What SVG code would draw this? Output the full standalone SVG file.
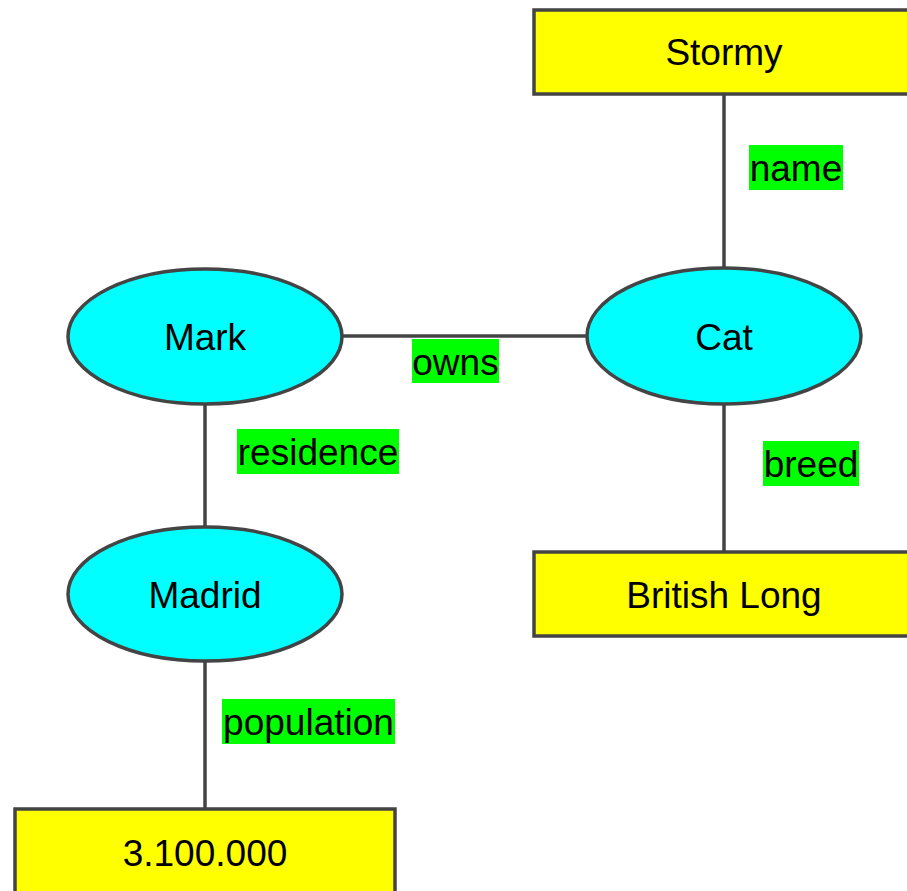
<svg xmlns="http://www.w3.org/2000/svg" width="907" height="891" viewBox="0 0 907 891">
  <style>
    .edge { stroke: #444444; stroke-width: 3.5; fill: none; }
    .entity { fill: #00ffff; stroke: #444444; stroke-width: 3.5; }
    .value { fill: #ffff00; stroke: #444444; stroke-width: 3.5; }
    .tag { fill: #00ff00; stroke: none; }
    text { font-family: "Liberation Sans", Arial, sans-serif; font-size: 37px; fill: #000000; }
    .mid { text-anchor: middle; }
  </style>

  <!-- relations between entities and values -->
  <g id="connectors">
    <line class="edge" x1="341" y1="336" x2="587" y2="336"/>
    <line class="edge" x1="724" y1="94" x2="724" y2="268"/>
    <line class="edge" x1="724" y1="404" x2="724" y2="552"/>
    <line class="edge" x1="205" y1="404" x2="205" y2="527"/>
    <line class="edge" x1="205" y1="661" x2="205" y2="809"/>

    <g id="label-name">
      <rect class="tag" x="749" y="145" width="94" height="45"/>
      <text x="796" y="181" class="mid">name</text>
    </g>
    <g id="label-owns">
      <rect class="tag" x="412" y="339" width="87" height="44"/>
      <text x="455.5" y="375" class="mid">owns</text>
    </g>
    <g id="label-residence">
      <rect class="tag" x="237" y="429" width="162" height="45"/>
      <text x="318" y="465" class="mid">residence</text>
    </g>
    <g id="label-breed">
      <rect class="tag" x="763" y="441" width="96" height="45"/>
      <text x="811" y="477" class="mid">breed</text>
    </g>
    <g id="label-population">
      <rect class="tag" x="222" y="699" width="173" height="45"/>
      <text x="308.5" y="735" class="mid">population</text>
    </g>
  </g>

  <g id="stormy">
    <rect class="value" x="534" y="10" width="380" height="84"/>
    <text x="724" y="65" class="mid">Stormy</text>
  </g>

  <g id="mark">
    <ellipse class="entity" cx="205" cy="336.5" rx="137" ry="67.5"/>
    <text x="205" y="350" class="mid">Mark</text>
  </g>

  <g id="cat">
    <ellipse class="entity" cx="724" cy="336" rx="137" ry="68"/>
    <text x="724" y="350" class="mid">Cat</text>
  </g>

  <g id="madrid">
    <ellipse class="entity" cx="205" cy="594" rx="137" ry="67"/>
    <text x="205" y="608" class="mid">Madrid</text>
  </g>

  <g id="british-long">
    <rect class="value" x="534" y="552" width="380" height="84"/>
    <text x="724" y="608" class="mid">British Long</text>
  </g>

  <g id="population-value">
    <rect class="value" x="15" y="809" width="380" height="84"/>
    <text x="205" y="866" class="mid">3.100.000</text>
  </g>
</svg>
